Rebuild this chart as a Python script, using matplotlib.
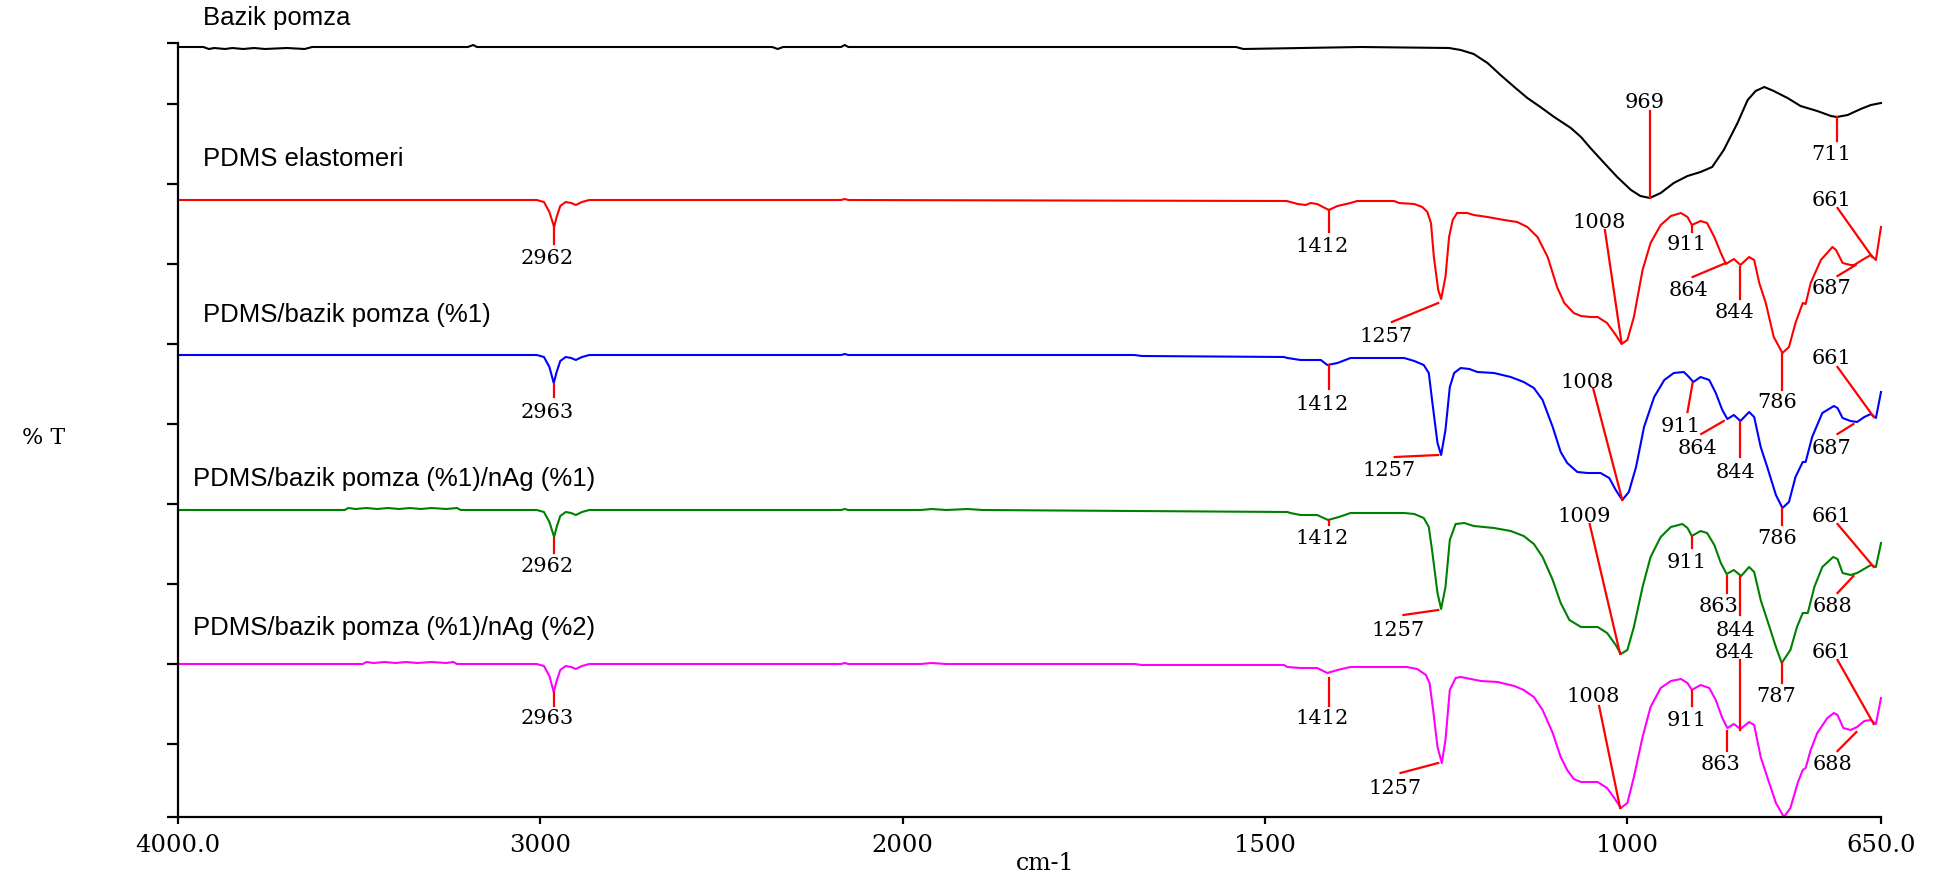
import numpy as np
import matplotlib
matplotlib.use('Agg')
import matplotlib.pyplot as plt

# FTIR spectra, y in arbitrary %T units (stacked), x in cm-1
bazik = [(4000, 770), (3930, 770), (3915, 768), (3900, 769), (3870, 768), (3850, 769),
         (3820, 768), (3790, 769), (3760, 768), (3700, 769), (3650, 768), (3630, 770),
         (3200, 770), (3185, 772), (3175, 770), (2360, 770), (2345, 768), (2330, 770),
         (2170, 770), (2160, 772), (2150, 770), (1540, 770), (1530, 768), (1368, 770),
         (1246, 769), (1230, 767), (1212, 763), (1193, 754), (1175, 742), (1156, 730),
         (1138, 719), (1120, 710), (1101, 700), (1078, 689), (1064, 680), (1051, 669),
         (1032, 654), (1014, 640), (995, 627), (982, 621), (969, 619), (954, 624),
         (936, 634), (917, 641), (899, 645), (883, 650), (867, 667), (848, 694),
         (834, 717), (823, 726), (811, 730), (798, 726), (779, 719), (761, 711),
         (738, 706), (719, 701), (711, 700), (696, 702), (678, 708), (664, 712), (650, 714)]

pdms = [(4000, 617), (3010, 617), (2990, 615), (2975, 605), (2962, 590), (2955, 600),
        (2945, 611), (2930, 615), (2915, 614), (2902, 612), (2885, 615), (2865, 617),
        (2170, 617), (2160, 618), (2150, 617), (1470, 616), (1455, 613), (1444, 612),
        (1437, 614), (1428, 613), (1412, 607), (1400, 611), (1382, 614), (1373, 616),
        (1322, 616), (1315, 614), (1294, 613), (1283, 610), (1276, 605), (1271, 594),
        (1267, 560), (1261, 527), (1257, 518), (1251, 540), (1246, 580), (1241, 597),
        (1235, 604), (1221, 604), (1212, 602), (1193, 600), (1170, 597), (1152, 595),
        (1138, 590), (1124, 580), (1110, 560), (1097, 530), (1087, 514), (1074, 504),
        (1064, 501), (1051, 500), (1041, 500), (1028, 494), (1016, 482), (1008, 473),
        (1000, 477), (991, 500), (979, 547), (968, 574), (954, 592), (940, 601),
        (926, 604), (917, 600), (911, 592), (899, 596), (890, 594), (880, 580),
        (871, 564), (864, 553), (853, 558), (844, 552), (832, 560), (825, 557),
        (818, 534), (809, 514), (798, 480), (786, 464), (777, 470), (768, 494),
        (758, 514), (754, 513), (747, 534), (733, 557), (717, 570), (712, 567),
        (703, 554), (692, 552), (687, 552), (676, 557), (664, 562), (657, 557), (650, 590)]

pdms_bp1 = [(4000, 462), (3010, 462), (2990, 460), (2975, 450), (2963, 434), (2955, 445),
            (2945, 456), (2930, 460), (2915, 459), (2902, 457), (2885, 460), (2865, 462),
            (2170, 462), (2160, 463), (2150, 462), (1680, 462), (1670, 461), (1474, 460),
            (1469, 459), (1451, 457), (1423, 457), (1414, 452), (1400, 454), (1382, 459),
            (1308, 459), (1294, 456), (1281, 452), (1274, 444), (1269, 414), (1262, 374),
            (1257, 362), (1251, 387), (1245, 430), (1239, 444), (1230, 449), (1218, 448),
            (1207, 445), (1184, 444), (1161, 440), (1143, 435), (1129, 429), (1117, 417),
            (1103, 390), (1092, 365), (1083, 354), (1069, 345), (1055, 344), (1037, 344),
            (1025, 339), (1016, 327), (1007, 317), (998, 325), (988, 350), (977, 390),
            (963, 420), (949, 437), (936, 444), (922, 445), (915, 440), (909, 435),
            (899, 440), (887, 437), (878, 424), (869, 407), (862, 398), (853, 402),
            (844, 396), (832, 405), (825, 400), (816, 370), (807, 350), (795, 322),
            (786, 309), (777, 315), (768, 340), (758, 355), (754, 355), (745, 380),
            (731, 404), (715, 411), (710, 409), (703, 399), (692, 396), (683, 395),
            (673, 400), (664, 403), (657, 399), (650, 425)]

pdms_ag1 = [(4000, 307), (3540, 307), (3530, 309), (3510, 308), (3480, 309), (3450, 308),
            (3420, 309), (3390, 308), (3360, 309), (3330, 308), (3300, 309), (3260, 308),
            (3230, 309), (3220, 307), (3010, 307), (2990, 305), (2975, 295), (2962, 280),
            (2955, 290), (2945, 301), (2930, 305), (2915, 304), (2902, 302), (2885, 305),
            (2865, 307), (2170, 307), (2160, 308), (2150, 307), (1975, 307), (1960, 308),
            (1940, 307), (1910, 308), (1890, 307), (1469, 305), (1465, 304), (1451, 302),
            (1428, 302), (1413, 297), (1398, 300), (1382, 304), (1308, 304), (1294, 303),
            (1281, 299), (1274, 290), (1269, 264), (1262, 224), (1257, 208), (1251, 230),
            (1245, 277), (1237, 293), (1225, 294), (1212, 291), (1184, 289), (1161, 286),
            (1143, 281), (1129, 273), (1117, 260), (1103, 237), (1092, 214), (1080, 197),
            (1064, 190), (1041, 190), (1028, 184), (1016, 172), (1009, 163), (1000, 167),
            (991, 190), (979, 230), (968, 260), (954, 280), (940, 290), (924, 293),
            (917, 289), (911, 281), (899, 286), (890, 284), (880, 272), (871, 254),
            (863, 243), (853, 247), (843, 241), (832, 250), (825, 245), (816, 217),
            (807, 197), (795, 170), (787, 154), (775, 167), (766, 190), (758, 204),
            (751, 204), (742, 230), (731, 250), (716, 260), (710, 258), (703, 244),
            (692, 242), (683, 244), (671, 249), (664, 252), (657, 250), (650, 274)]

pdms_ag2 = [(4000, 153), (3490, 153), (3480, 155), (3460, 154), (3430, 155), (3400, 154),
            (3370, 155), (3340, 154), (3300, 155), (3260, 154), (3240, 155), (3230, 153),
            (3010, 153), (2990, 151), (2975, 141), (2963, 125), (2955, 136), (2945, 147),
            (2930, 151), (2915, 150), (2902, 148), (2885, 151), (2865, 153), (2170, 153),
            (2160, 154), (2150, 153), (1975, 153), (1960, 154), (1940, 153), (1680, 153),
            (1670, 152), (1474, 152), (1469, 150), (1451, 149), (1428, 149), (1414, 144),
            (1400, 147), (1382, 150), (1304, 150), (1290, 148), (1278, 142), (1273, 134),
            (1268, 107), (1262, 70), (1256, 54), (1251, 77), (1245, 127), (1237, 139),
            (1230, 140), (1216, 138), (1202, 136), (1179, 135), (1156, 131), (1143, 127),
            (1129, 120), (1117, 107), (1103, 84), (1092, 60), (1083, 47), (1074, 38),
            (1064, 35), (1041, 35), (1028, 29), (1018, 19), (1009, 9), (1000, 14),
            (991, 40), (979, 80), (968, 110), (954, 129), (940, 136), (926, 138),
            (917, 134), (911, 127), (899, 132), (887, 129), (878, 117), (869, 99),
            (862, 89), (853, 93), (844, 88), (832, 95), (825, 92), (816, 60), (807, 40),
            (795, 14), (784, 0), (775, 9), (765, 34), (758, 47), (754, 49), (747, 67),
            (738, 84), (724, 99), (715, 104), (710, 102), (702, 89), (692, 87), (683, 90),
            (673, 96), (664, 97), (657, 93), (650, 119)]

names = ['Bazik pomza', 'PDMS elastomeri', 'PDMS/bazik pomza (%1)',
         'PDMS/bazik pomza (%1)/nAg (%1)', 'PDMS/bazik pomza (%1)/nAg (%2)']
colors = ['black', 'red', 'blue', 'green', 'magenta']
spectra = [bazik, pdms, pdms_bp1, pdms_ag1, pdms_ag2]
name_pos = [(3931, 792), (3931, 651), (3931, 495), (3959, 331), (3959, 182)]

# peak labels: text, line start (x, y), line end (x, y), label centre (x, y)
peaks = [
    ('969', 969, 706, 969, 619, 976, 714),
    ('711', 711, 700, 711, 676, 718, 662),
    ('2962', 2962, 590, 2962, 573, 2981, 558),
    ('1412', 1412, 607, 1412, 585, 1421, 571),
    ('1257', 1325, 495, 1261, 514, 1333, 481),
    ('1008', 1031, 587, 1008, 474, 1039, 594),
    ('911', 911, 592, 911, 585, 918, 572),
    ('864', 910, 540, 864, 554, 916, 527),
    ('844', 844, 550, 844, 518, 852, 504),
    ('786', 786, 464, 786, 427, 794, 414),
    ('661', 710, 609, 662, 560, 718, 616),
    ('687', 710, 541, 685, 552, 718, 528),
    ('2963', 2963, 433, 2963, 420, 2981, 405),
    ('1412', 1412, 452, 1412, 428, 1421, 413),
    ('1257', 1321, 360, 1261, 362, 1329, 346),
    ('1008', 1047, 428, 1007, 317, 1055, 435),
    ('911', 917, 405, 910, 434, 926, 391),
    ('864', 898, 383, 867, 396, 903, 368),
    ('844', 844, 395, 844, 360, 851, 345),
    ('786', 786, 308, 786, 292, 794, 278),
    ('661', 710, 450, 660, 400, 718, 458),
    ('687', 710, 383, 688, 393, 718, 368),
    ('2962', 2962, 279, 2962, 264, 2981, 250),
    ('1412', 1412, 297, 1412, 292, 1421, 278),
    ('1257', 1309, 202, 1261, 207, 1316, 187),
    ('1009', 1052, 293, 1010, 163, 1059, 300),
    ('911', 911, 281, 911, 269, 918, 254),
    ('863', 863, 241, 863, 224, 874, 210),
    ('844', 844, 240, 844, 202, 851, 186),
    ('787', 787, 154, 787, 134, 795, 120),
    ('661', 710, 293, 660, 250, 718, 300),
    ('688', 710, 224, 688, 241, 717, 210),
    ('2963', 2963, 125, 2963, 111, 2981, 98),
    ('1412', 1412, 139, 1412, 111, 1421, 98),
    ('1257', 1313, 44, 1261, 54, 1320, 29),
    ('1008', 1039, 111, 1010, 9, 1047, 120),
    ('911', 911, 126, 911, 111, 918, 96),
    ('863', 863, 86, 863, 66, 872, 52),
    ('844', 844, 157, 844, 87, 852, 165),
    ('661', 710, 157, 660, 93, 718, 165),
    ('688', 710, 66, 684, 85, 717, 53),
]

x_ticks = [4000, 3000, 2000, 1500, 1000, 650]
x_labels = ['4000.0', '3000', '2000', '1500', '1000', '650.0']
y_ticks = [0, 73, 153, 233, 313, 393, 473, 553, 633, 713, 774]


def fwd(w):
    w = np.asarray(w, dtype=float)
    return np.where(w > 2000, 2000 + (w - 2000) / 2, w)


def inv(t):
    t = np.asarray(t, dtype=float)
    return np.where(t > 2000, 2000 + (t - 2000) * 2, t)


fig = plt.figure(figsize=(19.55, 8.82), dpi=100)
ax = fig.add_axes([178 / 1955, 65 / 882, 1703 / 1955, 774 / 882])
ax.set_xscale('function', functions=(fwd, inv))
ax.set_xlim(4000, 650)
ax.set_ylim(0, 774)

for spec, c in zip(spectra, colors):
    wn, t = np.array(spec).T
    ax.plot(wn, t, color=c, lw=1.5, solid_joinstyle='round', clip_on=False)

for lab, x0, y0, x1, y1, tx, ty in peaks:
    ax.plot([x0, x1], [y0, y1], color='red', lw=1.6, clip_on=False)
    ax.text(tx, ty, lab, ha='center', va='center', family='DejaVu Serif',
            fontsize=15, color='black')

for nm, (nx, ny) in zip(names, name_pos):
    ax.text(nx, ny, nm, ha='left', va='baseline', family='Liberation Sans',
            fontsize=18.5, color='black', clip_on=False)

ax.spines['top'].set_visible(False)
ax.spines['right'].set_visible(False)
ax.spines['left'].set_linewidth(1.6)
ax.spines['bottom'].set_linewidth(1.6)
ax.set_xticks(x_ticks)
ax.set_xticklabels(x_labels, family='DejaVu Serif', fontsize=17.5)
ax.xaxis.set_minor_locator(plt.NullLocator())
ax.set_yticks(y_ticks)
ax.set_yticklabels([])
ax.tick_params(axis='x', direction='out', length=5, width=1.6, pad=7)
ax.tick_params(axis='y', direction='out', length=8, width=1.6)

fig.text(44 / 1955, 1 - 438 / 882, '% T', ha='center', va='center',
         family='DejaVu Serif', fontsize=16)
fig.text(1045 / 1955, 1 - 863 / 882, 'cm-1', ha='center', va='center',
         family='DejaVu Serif', fontsize=17)

fig.savefig('out.png', dpi=100)
